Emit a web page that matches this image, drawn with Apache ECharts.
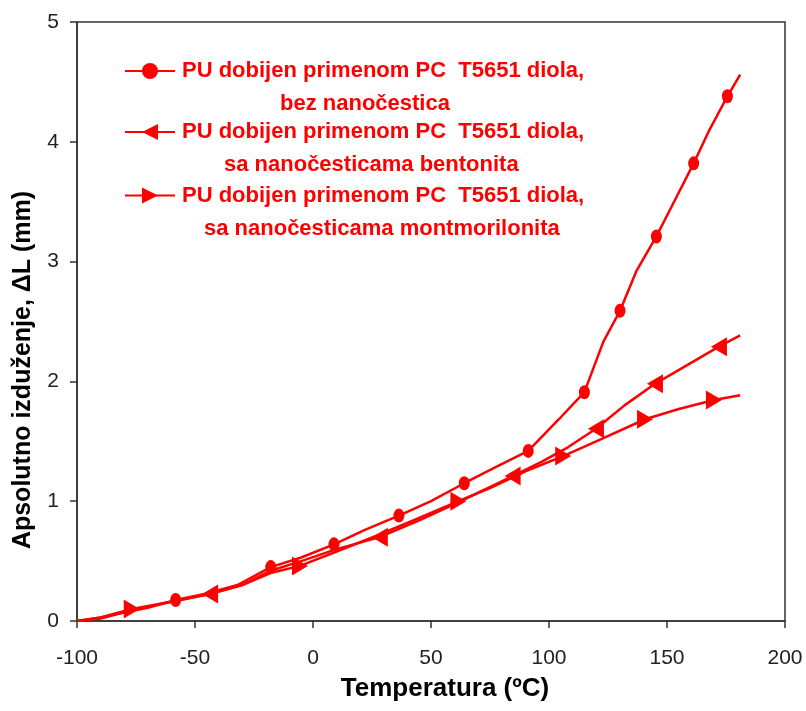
<!DOCTYPE html>
<html>
<head>
<meta charset="utf-8">
<title>Apsolutno izduženje</title>
<script src="https://cdn.jsdelivr.net/npm/echarts@6/dist/echarts.min.js"></script>
<style>
  html, body { margin: 0; padding: 0; background: #fff; }
  .echarts_1 { width: 806px; height: 711px; }
</style>
</head>
<body>
<div class="echarts_1"></div>
<script>
// podaci ocitani sa slike (temperatura u oC, izduzenje u mm)
// 1 = tacka sa markerom, 0 = samo linija
var temp1 = [-100, -90, -80, -70, -58.2, -45, -32, -17.9, -5, 8.9, 22, 36.4, 50, 64.1, 78, 91.2, 104, 115, 123, 130.1, 137, 145.5, 153, 161.3, 168, 175.6, 181];
var val1  = [0, 0.03, 0.07, 0.11, 0.175, 0.23, 0.30, 0.45, 0.53, 0.64, 0.76, 0.88, 1.0, 1.15, 1.29, 1.42, 1.68, 1.91, 2.33, 2.59, 2.92, 3.21, 3.5, 3.82, 4.1, 4.38, 4.56];
var mark1 = [0, 0, 0, 0, 1, 0, 0, 1, 0, 1, 0, 1, 0, 1, 0, 1, 0, 1, 0, 1, 0, 1, 0, 1, 0, 1, 0];

var temp2 = [-100, -90, -77, -60, -43.6, -30, -18, -5, 10, 28.3, 45, 61.6, 72, 84.6, 97, 108, 119.9, 132, 144.9, 158, 172, 181];
var val2  = [0, 0.02, 0.09, 0.16, 0.225, 0.30, 0.42, 0.50, 0.60, 0.70, 0.84, 0.99, 1.09, 1.21, 1.33, 1.45, 1.605, 1.80, 1.98, 2.13, 2.29, 2.385];
var mark2 = [0, 0, 0, 0, 1, 0, 0, 0, 0, 1, 0, 0, 0, 1, 0, 0, 1, 0, 1, 0, 1, 0];

var temp3 = [-100, -90, -76.8, -60, -45, -30, -18, -5.5, 10, 28, 45, 61.6, 75, 90, 106, 120, 140.7, 155, 169.9, 181];
var val3  = [0, 0.03, 0.10, 0.16, 0.22, 0.30, 0.40, 0.46, 0.58, 0.72, 0.86, 1.00, 1.11, 1.25, 1.377, 1.50, 1.684, 1.77, 1.845, 1.884];
var mark3 = [0, 0, 1, 0, 0, 0, 0, 1, 0, 0, 0, 1, 0, 0, 1, 0, 1, 0, 1, 0];

var names = ['PU dobijen primenom PC  T5651 diola, bez nanočestica',
             'PU dobijen primenom PC  T5651 diola, sa nanočesticama bentonita',
             'PU dobijen primenom PC  T5651 diola, sa nanočesticama montmorilonita'];
var line1 = 'PU dobijen primenom PC  T5651 diola,';
var line2 = ['bez nanočestica', 'sa nanočesticama bentonita', 'sa nanočesticama montmorilonita'];

var xTicks = { min: -100, max: 200, step: 50 };
var yTicks = { min: 0, max: 5, step: 1 };

var red = '#ff0000';
var font = 'Liberation Sans, Arial, sans-serif';

// pravi niz tacaka za seriju
function buildData(t, v, m) {
    var out = [];
    for (var i = 0; i < t.length; i++) {
        var item = { value: [t[i], v[i]] };
        if (!m[i]) item.symbol = 'none';
        out.push(item);
    }
    return out;
}

// jedna legenda za svaku seriju (tekst u dva reda)
function makeLegend(idx, top, pad2) {
    return {
        data: [names[idx]],
        left: 124,
        top: top,
        padding: 0,
        itemWidth: 50,
        itemHeight: 20,
        selectedMode: false,
        formatter: function () {
            return '{a| }\n{a|' + line1 + '}\n{b|' + line2[idx] + '}';
        },
        textStyle: {
            color: red,
            fontFamily: font,
            fontWeight: 'bold',
            fontSize: 22,
            lineHeight: 33,
            rich: {
                a: { color: red, fontFamily: font, fontWeight: 'bold', fontSize: 22, lineHeight: 33, padding: [0, 0, 0, 2] },
                b: { color: red, fontFamily: font, fontWeight: 'bold', fontSize: 22, lineHeight: 33, padding: [0, 0, 0, pad2] }
            }
        }
    };
}

var echarts_1 = echarts.init(document.querySelector('.echarts_1'));

var option1 = {
    backgroundColor: '#fff',
    animation: false,
    grid: {
        left: 77, right: 21, top: 22, bottom: 90,
        show: true,
        borderColor: '#333',
        borderWidth: 1.5,
        backgroundColor: 'transparent'
    },
    legend: [
        makeLegend(0, 71 - 49.5, 100),
        makeLegend(1, 132 - 49.5, 44),
        makeLegend(2, 195.5 - 49.5, 24)
    ],
    xAxis: {
        type: 'value',
        min: xTicks.min,
        max: xTicks.max,
        interval: xTicks.step,
        name: 'Temperatura (ºC)',
        nameLocation: 'middle',
        nameGap: 55,
        nameTextStyle: {
            color: '#000', fontFamily: font, fontWeight: 'bold', fontSize: 26,
            padding: [0, 0, 0, 28]
        },
        axisLine: { onZero: false, lineStyle: { color: '#333', width: 1.5 } },
        axisTick: { show: true, inside: false, length: 7, lineStyle: { color: '#333', width: 1.5 } },
        axisLabel: { color: '#222', fontFamily: font, fontSize: 21, margin: 27 },
        splitLine: { show: false }
    },
    yAxis: {
        type: 'value',
        min: yTicks.min,
        max: yTicks.max,
        interval: yTicks.step,
        name: 'Apsolutno izduženje, ΔL (mm)',
        nameLocation: 'middle',
        nameGap: 41,
        nameTextStyle: {
            color: '#000', fontFamily: font, fontWeight: 'bold', fontSize: 25,
            padding: [0, 97, 0, 0]
        },
        axisLine: { show: true, onZero: false, lineStyle: { color: '#333', width: 1.5 } },
        axisTick: { show: true, inside: false, length: 7, lineStyle: { color: '#333', width: 1.5 } },
        axisLabel: { color: '#222', fontFamily: font, fontSize: 21, margin: 18 },
        splitLine: { show: false }
    },
    series: [
        {
            name: names[0],
            type: 'line',
            data: buildData(temp1, val1, mark1),
            symbol: 'circle',
            symbolSize: [11, 14],
            lineStyle: { color: red, width: 2.5 },
            itemStyle: { color: red },
            z: 3
        },
        {
            name: names[1],
            type: 'line',
            data: buildData(temp2, val2, mark2),
            symbol: 'path://M0,5 L10,0 L10,10 Z',
            symbolSize: [16, 19],
            lineStyle: { color: red, width: 2.5 },
            itemStyle: { color: red },
            z: 2
        },
        {
            name: names[2],
            type: 'line',
            data: buildData(temp3, val3, mark3),
            symbol: 'path://M10,5 L0,0 L0,10 Z',
            symbolSize: [16, 19],
            lineStyle: { color: red, width: 2.5 },
            itemStyle: { color: red },
            z: 2
        }
    ]
};

echarts_1.setOption(option1);
</script>
</body>
</html>
